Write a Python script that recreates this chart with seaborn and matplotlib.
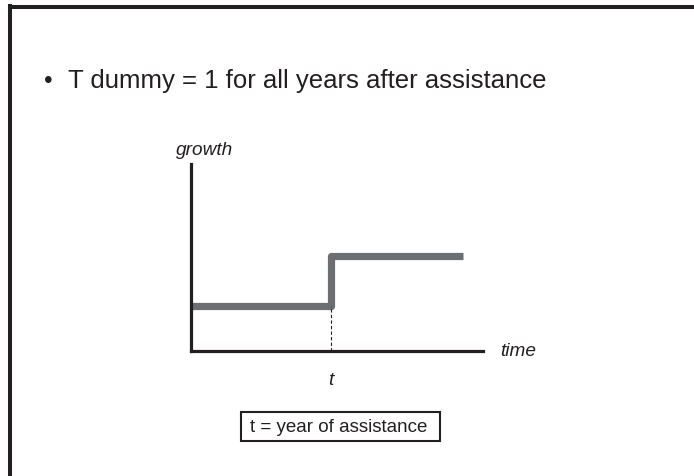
import matplotlib
matplotlib.use("Agg")
import matplotlib.pyplot as plt
from matplotlib.lines import Line2D
from matplotlib.patches import Rectangle
import seaborn as sns
import pandas as pd

# step data: growth jumps at the year of assistance
time = [0, 4.8, 9.3]
growth = [2.4, 5.1, 5.1]
t_assist = 4.8

bullet_text = "T dummy = 1 for all years after assistance"
note_text = "t = year of assistance"

sns.set_theme(style="white")
plt.rcParams["font.family"] = ["Liberation Sans", "DejaVu Sans"]

W, H = 694, 476
fig = plt.figure(figsize=(W / 100, H / 100), dpi=100)
fig.patch.set_facecolor("white")
ink = "#231f20"

# slide frame (left and top edges)
fig.add_artist(Line2D([9.5 / W, 9.5 / W], [0, 1 - 6 / H], color=ink, lw=2.9,
                      solid_capstyle="projecting"))
fig.add_artist(Line2D([9.5 / W, 1], [1 - 6.5 / H, 1 - 6.5 / H], color=ink, lw=2.9,
                      solid_capstyle="projecting"))

fig.text(48.5 / W, 1 - 82 / H, "\u2022", fontsize=17.5, color=ink, va="center", ha="center")
fig.text(68 / W, 1 - 88 / H, bullet_text, fontsize=18.5, color=ink,
         va="baseline", ha="left")

ax = fig.add_axes([191 / W, 1 - 351 / H, 292 / W, 187 / H])
df = pd.DataFrame({"time": time, "growth": growth})
sns.lineplot(data=df, x="time", y="growth", ax=ax, color="#6d6e71", lw=5.2,
             drawstyle="steps-post", solid_capstyle="butt")
ax.vlines(t_assist, 0, growth[0], colors=ink, linestyles=(0, (3, 2)), lw=0.8)

ax.set_xlim(0, 10)
ax.set_ylim(0, 10)
ax.set_xticks([])
ax.set_yticks([])
ax.set_xlabel("")
ax.set_ylabel("")
ax.set_facecolor("none")
for s in ["top", "right"]:
    ax.spines[s].set_visible(False)
for s in ["left", "bottom"]:
    ax.spines[s].set_color(ink)
    ax.spines[s].set_linewidth(2.3)
    ax.spines[s].set_capstyle("projecting")

ax.text(-0.5, 10.5, "growth", fontsize=13.7, style="italic", color=ink,
        ha="left", va="baseline", clip_on=False)
ax.text(10.6, 0.0, "time", fontsize=13.7, style="italic", color=ink,
        ha="left", va="center", clip_on=False)
ax.text(t_assist, -1.6, "t", fontsize=13.7, style="italic", color=ink,
        ha="center", va="center", clip_on=False)

fig.add_artist(Rectangle((241 / W, 1 - 441 / H), 199 / W, 29 / H,
                         transform=fig.transFigure, fc="white", ec=ink, lw=1.5))
fig.text(250 / W, 1 - 427 / H, note_text, fontsize=13.5, color=ink,
         ha="left", va="center")

fig.savefig("out.png", dpi=100, facecolor="white")
